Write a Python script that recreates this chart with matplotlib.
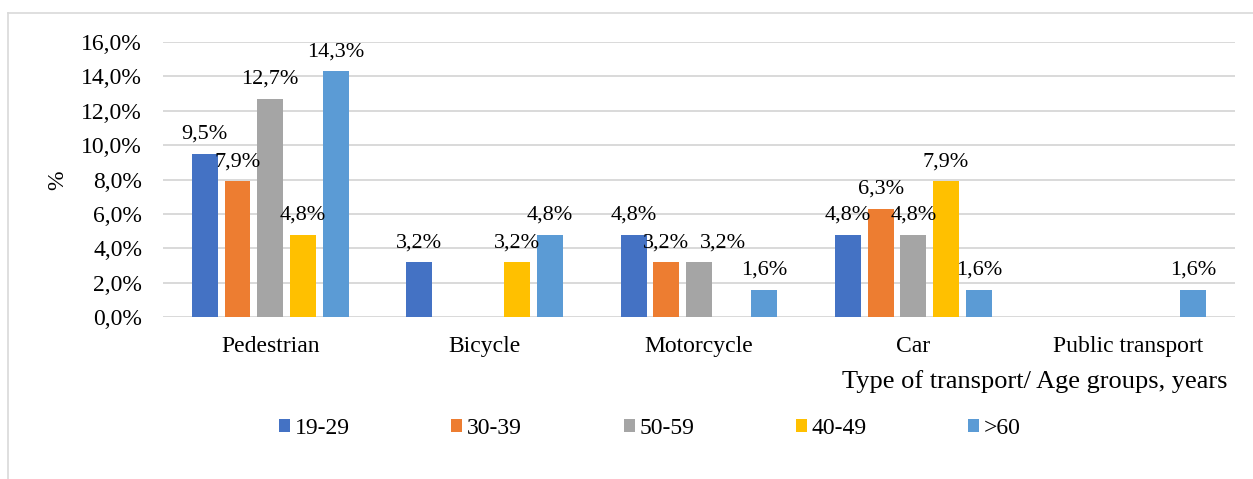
import matplotlib
matplotlib.use("Agg")
import matplotlib.pyplot as plt
from matplotlib.patches import Patch
from matplotlib.lines import Line2D
import numpy as np

categories = ["Pedestrian", "Bicycle", "Motorcycle", "Car", "Public transport"]
series_names = ["19-29", "30-39", "50-59", "40-49", ">60"]
s_19_29 = [9.5, 3.2, 4.8, 4.8, 0.0]
s_30_39 = [7.9, 0.0, 3.2, 6.3, 0.0]
s_50_59 = [12.7, 0.0, 3.2, 4.8, 0.0]
s_40_49 = [4.8, 3.2, 0.0, 7.9, 0.0]
s_60 = [14.3, 4.8, 1.6, 1.6, 1.6]
yticks = [0, 2, 4, 6, 8, 10, 12, 14, 16]
ytick_labels = ["0,0%", "2,0%", "4,0%", "6,0%", "8,0%", "10,0%", "12,0%", "14,0%", "16,0%"]
colors = ["#4472C4", "#ED7D31", "#A5A5A5", "#FFC000", "#5B9BD5"]

plt.rcParams['font.family'] = ['Liberation Serif', 'DejaVu Serif']
FS = 16

W, H = 1253, 479
fig = plt.figure(figsize=(W / 100, H / 100), dpi=100)
ax = fig.add_axes([163 / W, 1 - 317 / H, (1235 - 163) / W, (317 - 42) / H])

# label nudges (in points) to avoid overlapping labels, as in the original
label_dx = {(2, 2): 17}

data = [s_19_29, s_30_39, s_50_59, s_40_49, s_60]
x = np.arange(len(categories))
step = 0.1525
bw = 0.121
for i, (vals, c) in enumerate(zip(data, colors)):
    pos = x + (i - 2) * step
    for j, (p, v) in enumerate(zip(pos, vals)):
        if v > 0:
            ax.bar(p, v, width=bw, color=c, zorder=3)
            ax.annotate(f"{v:.1f}%".replace(".", ","), (p, v),
                        xytext=(label_dx.get((j, i), 0), 7),
                        textcoords="offset points", ha="center", va="bottom",
                        fontsize=FS, color="black", zorder=4)

ax.set_xlim(-0.5, len(categories) - 0.5)
ax.set_ylim(0, 16)
ax.set_yticks(yticks)
ax.set_yticklabels(ytick_labels, fontsize=17)
ax.set_xticks(x)
ax.set_xticklabels(categories, fontsize=17)
ax.tick_params(axis="both", length=0)
ax.tick_params(axis="y", pad=15)
ax.tick_params(axis="x", pad=14)
ax.grid(axis="y", color="#D9D9D9", linewidth=1.4, zorder=0)
for s in ax.spines.values():
    s.set_visible(False)
ax.set_axisbelow(True)

fig.text(58 / W, 1 - 180 / H, "%", rotation=90, ha="center", va="center", fontsize=17)
fig.text(1228 / W, 1 - 382 / H, "Type of transport/ Age groups, years",
         ha="right", va="center", fontsize=19)

handles = [Patch(facecolor=c, edgecolor="none") for c in colors]
fig.legend(handles, series_names, loc="center", bbox_to_anchor=(650 / W, 1 - 428 / H),
           ncol=5, frameon=False, fontsize=17, handlelength=0.47, handleheight=0.47,
           handletextpad=0.2, columnspacing=4.3, borderaxespad=0)

# chart frame
fig.add_artist(Line2D([8 / W, 1.0], [1 - 13 / H, 1 - 13 / H], color="#D9D9D9", lw=1.2,
                      transform=fig.transFigure))
fig.add_artist(Line2D([8 / W, 8 / W], [0, 1 - 13 / H], color="#D9D9D9", lw=1.2,
                      transform=fig.transFigure))

fig.savefig("out.png", dpi=100)
